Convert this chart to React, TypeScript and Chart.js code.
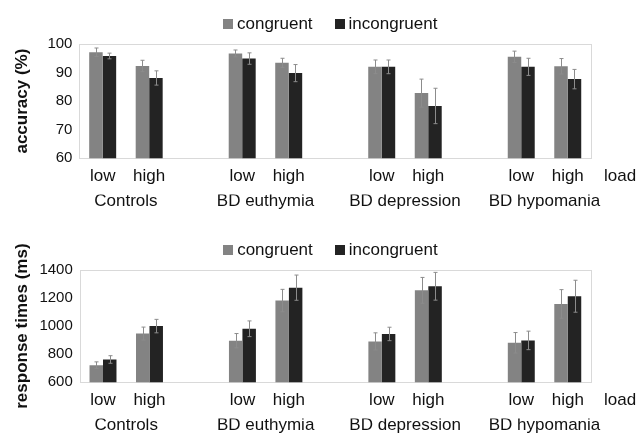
import React, { useEffect, useRef } from "react";
import { Chart, registerables } from "chart.js";
Chart.register(...registerables);

const groups = ["Controls", "BD euthymia", "BD depression", "BD hypomania"];
const loads = ["low", "high"];
const seriesNames = ["congruent", "incongruent"];

const accCongruent = [97.1, 92.3, 96.7, 93.4, 92.0, 82.8, 95.5, 92.2];
const accCongruentErr = [1.5, 2.0, 1.2, 1.6, 2.4, 4.9, 2.0, 2.7];
const accIncongruent = [95.8, 88.1, 94.9, 89.8, 92.0, 78.3, 92.0, 87.7];
const accIncongruentErr = [1.0, 2.5, 2.0, 3.0, 2.4, 6.2, 3.0, 3.4];
const accTicks = [60, 70, 80, 90, 100];

const rtCongruent = [721, 947, 896, 1182, 891, 1255, 881, 1158];
const rtCongruentErr = [24, 46, 51, 80, 61, 92, 73, 102];
const rtIncongruent = [762, 1000, 981, 1274, 944, 1284, 898, 1213];
const rtIncongruentErr = [27, 48, 56, 90, 48, 99, 66, 114];
const rtTicks = [600, 800, 1000, 1200, 1400];

const FONT = "'Liberation Sans', Arial, Helvetica, sans-serif";
const CONG_COLOR = "#838383";
const INCONG_COLOR = "#232323";
const COLORS = [CONG_COLOR, INCONG_COLOR];

// 11 slots: low, high, gap, low, high, gap, ...
const slotLabels: string[] = [];
groups.forEach((g, k) => {
  loads.forEach((l) => slotLabels.push(l));
  if (k < groups.length - 1) slotLabels.push("");
});
const groupCenters = groups.map((_, k) => k * 3 + 0.5);

function spread(vals: number[]): (number | null)[] {
  const out: (number | null)[] = [];
  groups.forEach((_, k) => {
    out.push(vals[k * 2], vals[k * 2 + 1]);
    if (k < groups.length - 1) out.push(null);
  });
  return out;
}

const errorBarPlugin = {
  id: "errorBars",
  afterDatasetsDraw(chart: any) {
    const ctx = chart.ctx;
    const y = chart.scales.y;
    chart.data.datasets.forEach((ds: any, i: number) => {
      const meta = chart.getDatasetMeta(i);
      meta.data.forEach((bar: any, j: number) => {
        const v = ds.data[j];
        const e = ds.errors[j];
        if (v == null || e == null) return;
        const x = Math.round(bar.x) + 0.5;
        const yt = y.getPixelForValue(v + e);
        const yb = y.getPixelForValue(v - e);
        ctx.save();
        ctx.strokeStyle = "#8c8c8c";
        ctx.lineWidth = 1;
        ctx.beginPath();
        ctx.moveTo(x, yt);
        ctx.lineTo(x, yb);
        ctx.moveTo(x - 2, yt);
        ctx.lineTo(x + 2, yt);
        ctx.moveTo(x - 2, yb);
        ctx.lineTo(x + 2, yb);
        ctx.stroke();
        ctx.restore();
      });
    });
  },
};

const boxPlugin = {
  id: "plotBox",
  beforeDatasetsDraw(chart: any) {
    const { ctx, chartArea: a } = chart;
    ctx.save();
    ctx.strokeStyle = "#d9d9d9";
    ctx.lineWidth = 1;
    ctx.strokeRect(Math.round(a.left) + 0.5, Math.round(a.top) + 0.5, Math.round(a.right - a.left), Math.round(a.bottom - a.top));
    ctx.restore();
  },
};

const labelsPlugin = {
  id: "extraLabels",
  afterDraw(chart: any) {
    const { ctx, chartArea: a } = chart;
    const xs = chart.scales.x;
    ctx.save();
    ctx.font = `17px ${FONT}`;
    ctx.fillStyle = "#111";
    ctx.textBaseline = "middle";
    // "load" label next to the x tick row
    ctx.textAlign = "left";
    ctx.fillText("load", a.right + 13, xs.top + 8 + 10.2);
    // legend centred over the plot area
    const box = 10;
    const gapText = 4;
    const gapItem = 22;
    const widths = chart.data.datasets.map((ds: any) => ctx.measureText(ds.label).width);
    const total = widths.reduce((s: number, w: number) => s + box + gapText + w, 0) + gapItem * (widths.length - 1);
    let x = (a.left + a.right) / 2 - 5 - total / 2;
    const yc = a.top - 20;
    chart.data.datasets.forEach((ds: any, i: number) => {
      ctx.fillStyle = ds.backgroundColor;
      ctx.fillRect(Math.round(x), Math.round(yc - box / 2), box, box);
      x += box + gapText;
      ctx.fillStyle = "#111";
      ctx.fillText(ds.label, x, yc);
      x += widths[i] + gapItem;
    });
    ctx.restore();
  },
};

type PanelProps = {
  height: number;
  title: string;
  cong: number[];
  congErr: number[];
  incong: number[];
  incongErr: number[];
  ticks: number[];
  padTop: number;
  padBottom: number;
  titlePadBottom: number;
};

function Panel(p: PanelProps) {
  const ref = useRef<HTMLCanvasElement | null>(null);
  useEffect(() => {
    if (!ref.current) return;
    const chart = new Chart(ref.current, {
      type: "bar",
      data: {
        labels: slotLabels,
        datasets: [
          { label: seriesNames[0], data: spread(p.cong), errors: spread(p.congErr), backgroundColor: COLORS[0], borderWidth: 0 } as any,
          { label: seriesNames[1], data: spread(p.incong), errors: spread(p.incongErr), backgroundColor: COLORS[1], borderWidth: 0 } as any,
        ],
      },
      options: {
        animation: false,
        responsive: false,
        events: [],
        layout: { padding: { top: p.padTop, left: 0, right: 47, bottom: p.padBottom } },
        datasets: { bar: { categoryPercentage: 0.58, barPercentage: 1 } },
        plugins: {
          legend: { display: false },
          tooltip: { enabled: false },
        },
        scales: {
          x: {
            type: "category",
            weight: 0,
            grid: { display: false, drawTicks: false },
            border: { display: false },
            ticks: { autoSkip: false, maxRotation: 0, padding: 8, color: "#111", font: { family: FONT, size: 17 } },
          },
          x2: {
            type: "linear",
            position: "bottom",
            weight: 1,
            min: -0.5,
            max: slotLabels.length - 0.5,
            offset: false,
            grid: { display: false, drawTicks: false },
            border: { display: false },
            afterBuildTicks: (axis: any) => {
              axis.ticks = groupCenters.map((v) => ({ value: v }));
            },
            ticks: {
              autoSkip: false,
              maxRotation: 0,
              padding: -3,
              color: "#111",
              font: { family: FONT, size: 17 },
              callback: (v: any) => {
                const i = groupCenters.indexOf(Number(v));
                return i >= 0 ? groups[i] : "";
              },
            },
          } as any,
          y: {
            min: p.ticks[0],
            max: p.ticks[p.ticks.length - 1],
            grid: { display: false, drawTicks: false },
            border: { display: false },
            afterBuildTicks: (axis: any) => {
              axis.ticks = p.ticks.map((v) => ({ value: v }));
            },
            ticks: {
              padding: 7,
              color: "#111",
              font: { family: FONT, size: 15 },
              callback: (v: any) => String(v),
            },
            title: {
              display: true,
              text: p.title,
              color: "#111",
              font: { family: FONT, size: 17, weight: "bold" },
              padding: { top: 12, bottom: p.titlePadBottom },
            },
          },
        },
      },
      plugins: [boxPlugin, errorBarPlugin, labelsPlugin],
    });
    return () => chart.destroy();
  }, []);
  return <canvas ref={ref} width={638} height={p.height} style={{ display: "block" }} />;
}

export default function App() {
  return (
    <div style={{ position: "absolute", left: 0, top: 0, width: 638, height: 433, background: "#fff" }}>
      <Panel
        height={216}
        title="accuracy (%)"
        cong={accCongruent}
        congErr={accCongruentErr}
        incong={accIncongruent}
        incongErr={accIncongruentErr}
        ticks={accTicks}
        padTop={44}
        padBottom={7}
        titlePadBottom={8}
      />
      <Panel
        height={217}
        title="response times (ms)"
        cong={rtCongruent}
        congErr={rtCongruentErr}
        incong={rtIncongruent}
        incongErr={rtIncongruentErr}
        ticks={rtTicks}
        padTop={54}
        padBottom={0}
        titlePadBottom={0}
      />
    </div>
  );
}
